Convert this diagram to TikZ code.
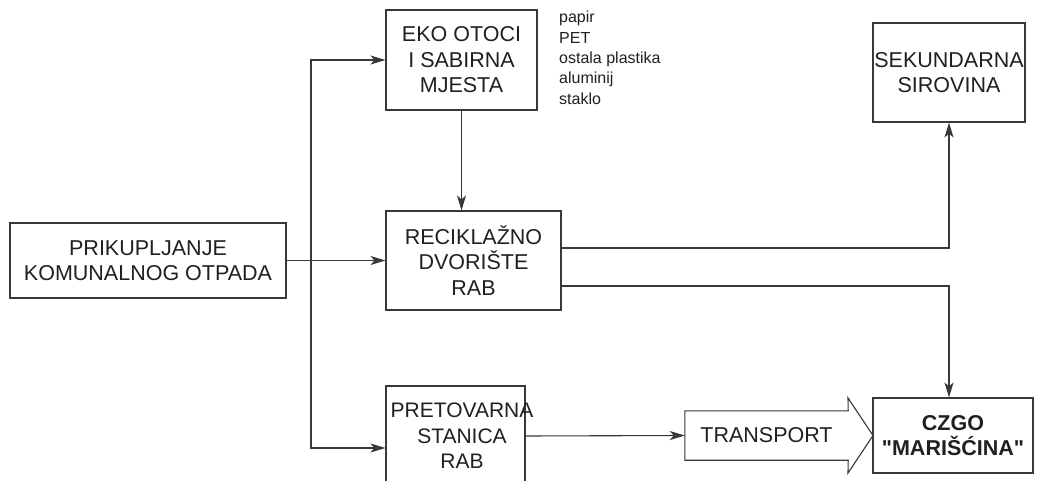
\documentclass[tikz,border=0pt]{standalone}
\usepackage{fontspec}
\setmainfont{Liberation Sans}
\usetikzlibrary{arrows.meta,calc}
\definecolor{ln}{HTML}{383838}
\definecolor{tx}{HTML}{202020}
\tikzset{
  box/.style={draw=ln, line width=1.1pt, rectangle, align=center, text=tx, inner sep=0pt,
    font=\fontsize{21.5}{25.5}\selectfont},
  lbl/.style={align=center, text=tx, inner sep=0pt, font=\fontsize{21}{25.5}\selectfont},
  arr/.style={draw=ln, line width=1.1pt, -{Stealth[length=15pt,width=9pt,inset=4pt]}},
  ln/.style={draw=ln, line width=1.1pt}
}
\begin{document}
\begin{tikzpicture}[x=1pt,y=-1pt]
\useasboundingbox (0,0) rectangle (1037,481);
\clip (0,0) rectangle (1037,481);
\fill[white] (0,0) rectangle (1037,481);
\node[box, minimum width=151pt, minimum height=100pt] (eko) at (461.5,60) {EKO OTOCI\\I SABIRNA\\MJESTA};
\node[box, minimum width=276pt, minimum height=75pt] (prik) at (148,260.5) {PRIKUPLJANJE\\KOMUNALNOG OTPADA};
\node[box, minimum width=175pt, minimum height=99pt] (rec) at (473.5,260.5) {RECIKLAŽNO\\DVORIŠTE\\RAB};
\node[box, minimum width=152pt, minimum height=99pt] (sek) at (949,72.5) {SEKUNDARNA\\SIROVINA};
\node[box, minimum width=139pt, minimum height=100pt] (pret) at (455.5,436) {};
\node[lbl] (pretlbl) at (462,436) {PRETOVARNA\\STANICA\\RAB};
\node[box, minimum width=160pt, minimum height=75pt, font=\fontsize{21.5}{25.5}\selectfont\bfseries] (czgo) at (953,435.5) {CZGO\\\textquotedbl MARIŠĆINA\textquotedbl};
\node[anchor=north west, align=left, inner sep=0pt, text=tx, font=\fontsize{16}{20.4}\selectfont] (list) at (559,11) {papir\\PET\\ostala plastika\\aluminij\\staklo};
% transport arrow
\node[inner sep=0pt, minimum width=163pt, minimum height=49pt, align=center, text=tx,
  font=\fontsize{21.5}{25.5}\selectfont] (tr) at (766.5,435.5) {TRANSPORT};
\draw[ln] (tr.north west) -- (tr.north east) -- (848,398) -- (873,435.5) -- (848,473) -- (tr.south east) -- (tr.south west) -- cycle;
\coordinate (bus) at (311,0);
\coordinate (ya) at (0,248);
\coordinate (yb) at (0,286);
\coordinate (yc) at (0,448);
\draw[arr] (bus |- prik.east) |- (eko.west);
\draw[arr] (bus |- prik.east) |- (yc -| pret.west);
\draw[arr] (prik.east) -- (rec.west);
\draw[arr] (eko.south) -- (eko.south |- rec.north);
\draw[arr] (rec.east |- ya) -| (sek.south);
\draw[arr] (rec.east |- yb) -| (sek.south |- czgo.north);
\draw[arr] (pret.east) -- (tr.west);
\end{tikzpicture}
\end{document}
